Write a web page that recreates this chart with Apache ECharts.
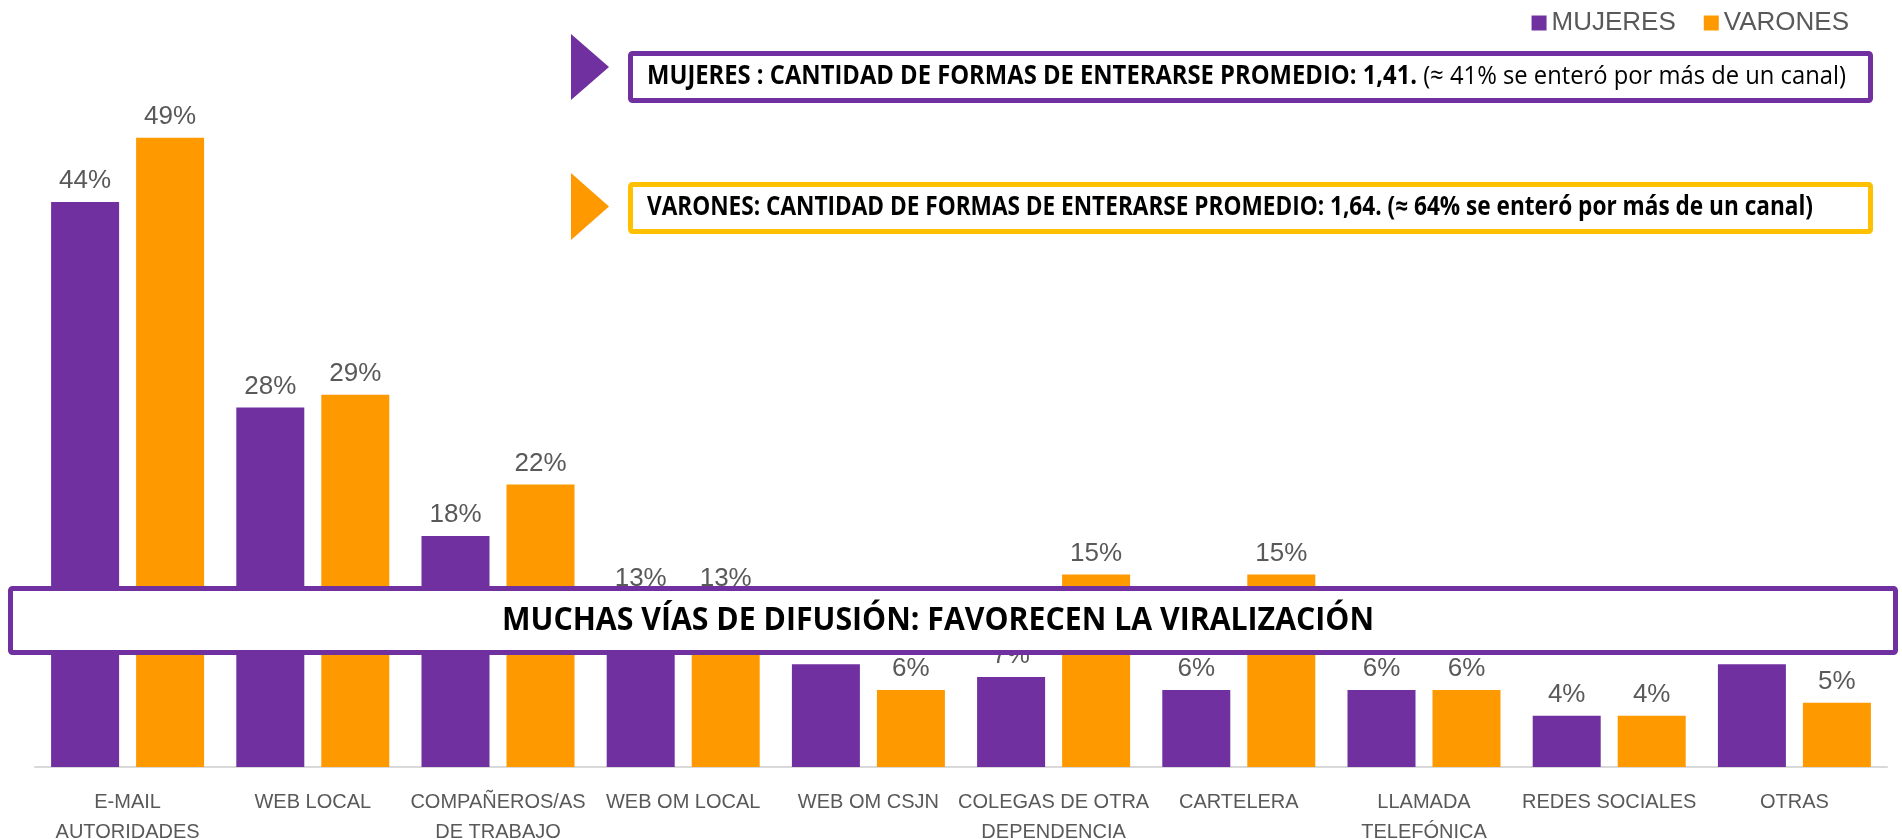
<!DOCTYPE html>
<html>
<head>
<meta charset="utf-8">
<script src="https://cdn.jsdelivr.net/npm/echarts@6/dist/echarts.min.js"></script>
<style>
  html, body { margin: 0; padding: 0; background: #ffffff; }
  #chart { width: 1902px; height: 839px; }
</style>
</head>
<body>
<div id="chart"></div>
<script>
// datos
const categorias = [
  'E-MAIL\nAUTORIDADES', 'WEB LOCAL', 'COMPAÑEROS/AS\nDE TRABAJO', 'WEB OM LOCAL', 'WEB OM CSJN',
  'COLEGAS DE OTRA\nDEPENDENCIA', 'CARTELERA', 'LLAMADA\nTELEFÓNICA', 'REDES SOCIALES', 'OTRAS'
]
const mujeres = [44, 28, 18, 13, 8, 7, 6, 6, 4, 8]
const varones = [49, 29, 22, 13, 6, 15, 15, 6, 4, 5]
const nombresSeries = ['MUJERES', 'VARONES']

const notaMujeresBold = 'MUJERES : CANTIDAD DE FORMAS DE ENTERARSE PROMEDIO: 1,41.'
const notaMujeresNormal = ' (≈ 41% se enteró por más de un canal)'
const notaVarones = 'VARONES: CANTIDAD DE FORMAS DE ENTERARSE PROMEDIO: 1,64. (≈ 64% se enteró por más de un canal)'
const titulo = 'MUCHAS VÍAS DE DIFUSIÓN: FAVORECEN LA VIRALIZACIÓN'

const MORADO = '#7030A0'
const NARANJA = '#FF9900'
const AMARILLO = '#FFC000'
const GRIS = '#595959'
const fuente = 'Liberation Sans, Arial, sans-serif'
const fuenteTit = '"Open Sans", "Liberation Sans", sans-serif'

// el original usa una letra estrecha (tipo Calibri): se comprime el texto en horizontal
const ctx = document.createElement('canvas').getContext('2d')
const medir = (txt, font) => { ctx.font = font; return ctx.measureText(txt).width }
const fontB26 = 'bold 26px ' + fuenteTit
const fontN26 = '26px ' + fuenteTit
const fontB33 = 'bold 33px ' + fuenteTit
const escala1 = 1199 / (medir(notaMujeresBold, fontB26) + medir(notaMujeresNormal, fontN26))
const escala2 = 1166 / medir(notaVarones, fontB26)
const escala3 = 872 / medir(titulo, fontB33)

const chart = echarts.init(document.getElementById('chart'))

const labelBarra = {
  show: true,
  position: 'top',
  distance: 8,
  color: GRIS,
  fontSize: 26,
  fontFamily: fuente,
  formatter: '{c}%'
}

const option = {
  backgroundColor: '#ffffff',
  animation: false,
  legend: {
    data: nombresSeries,
    right: 48,
    top: 5,
    icon: 'rect',
    itemWidth: 15,
    itemHeight: 15,
    itemGap: 28,
    textStyle: { color: GRIS, fontSize: 26, fontFamily: fuente }
  },
  grid: { left: 35, right: 15, top: 125, bottom: 72, containLabel: false, outerBoundsMode: 'none' },
  xAxis: {
    type: 'category',
    data: categorias,
    axisLine: { lineStyle: { color: '#D9D9D9', width: 2 } },
    axisTick: { show: false },
    axisLabel: {
      color: GRIS,
      fontSize: 20,
      fontFamily: fuente,
      lineHeight: 30,
      margin: 20,
      interval: 0
    }
  },
  yAxis: {
    type: 'value',
    min: 0,
    max: 50,
    show: false
  },
  series: [
    {
      name: nombresSeries[0],
      type: 'bar',
      data: mujeres,
      barWidth: 68,
      barGap: '25%',
      itemStyle: { color: MORADO },
      label: labelBarra
    },
    {
      name: nombresSeries[1],
      type: 'bar',
      data: varones,
      barWidth: 68,
      barGap: '25%',
      itemStyle: { color: NARANJA },
      label: labelBarra
    }
  ],
  graphic: [
    // flecha y recuadro mujeres
    {
      type: 'polygon', z: 100,
      shape: { points: [[571, 34], [609, 67], [571, 100]] },
      style: { fill: MORADO }
    },
    {
      type: 'rect', z: 100,
      shape: { x: 630.5, y: 53.5, width: 1240, height: 47, r: 2 },
      style: { fill: '#ffffff', stroke: MORADO, lineWidth: 5 }
    },
    {
      type: 'text', z: 101,
      x: 647, y: 77, scaleX: escala1,
      style: {
        text: '{b|' + notaMujeresBold + '}{n|' + notaMujeresNormal + '}',
        verticalAlign: 'middle',
        rich: {
          b: { fontFamily: fuenteTit, fontWeight: 'bold', fontSize: 26, fill: '#000000' },
          n: { fontFamily: fuenteTit, fontSize: 26, fill: '#000000' }
        }
      }
    },
    // flecha y recuadro varones
    {
      type: 'polygon', z: 100,
      shape: { points: [[571, 173], [609, 206.5], [571, 240]] },
      style: { fill: NARANJA }
    },
    {
      type: 'rect', z: 100,
      shape: { x: 630.5, y: 184.5, width: 1240, height: 47, r: 2 },
      style: { fill: '#ffffff', stroke: AMARILLO, lineWidth: 5 }
    },
    {
      type: 'text', z: 101,
      x: 647, y: 208, scaleX: escala2,
      style: {
        text: notaVarones,
        verticalAlign: 'middle',
        font: fontB26,
        fill: '#000000'
      }
    },
    // banda central
    {
      type: 'rect', z: 100,
      shape: { x: 10.5, y: 588.5, width: 1885, height: 64, r: 2 },
      style: { fill: '#ffffff', stroke: MORADO, lineWidth: 5 }
    },
    {
      type: 'text', z: 101,
      x: 938, y: 621, scaleX: escala3,
      style: {
        text: titulo,
        align: 'center',
        verticalAlign: 'middle',
        font: fontB33,
        fill: '#000000'
      }
    }
  ]
}

chart.setOption(option)
</script>
</body>
</html>
